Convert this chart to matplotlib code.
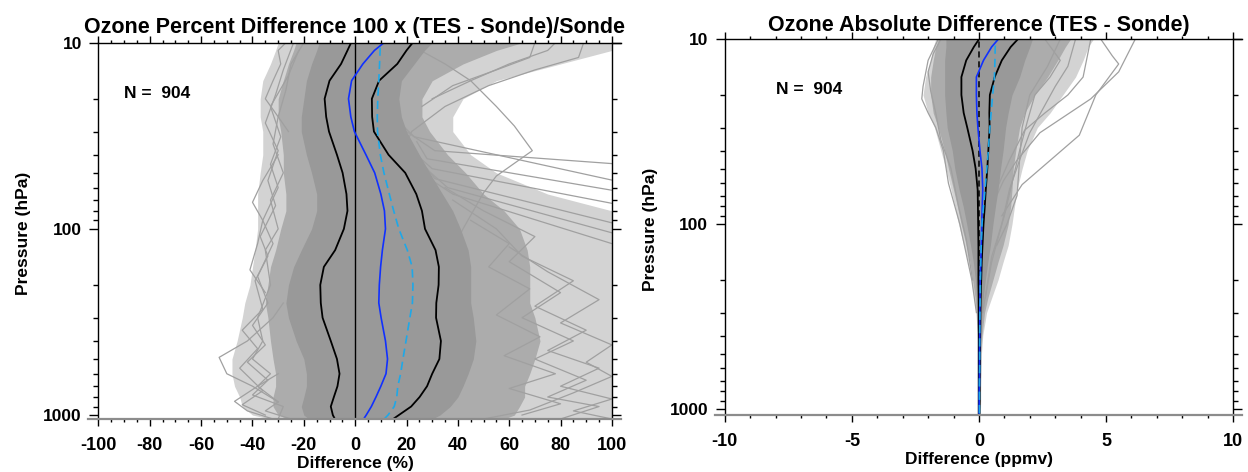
import matplotlib
matplotlib.use("Agg")
import matplotlib.pyplot as plt
from matplotlib.ticker import NullFormatter

plt.rcParams['font.family'] = ['Liberation Sans', 'DejaVu Sans']
plt.rcParams['font.weight'] = 'bold'
plt.rcParams['axes.unicode_minus'] = False

# ---------------- data ----------------
# pressure levels (hPa), surface -> top
P = [1050, 1000, 900, 800, 700, 600, 500, 400, 300, 250, 200, 160, 130,
     100, 80, 65, 50, 40, 30, 25, 20, 16, 13, 11, 10]

# Left panel: percent difference statistics
pct_std_lo = [-7.9, -8.7, -9.5, -8.3, -6.9, -6.1, -7.1, -9.5, -12.7, -13.4, -13.6, -12.2, -7.8,
              -4.4, -3.0, -3.4, -4.9, -7.1, -10.2, -11.3, -11.9, -10.0, -5.5, -3.0, -1.6]
pct_std_hi = [14.8, 17.0, 21.8, 25.1, 28.0, 30.0, 32.8, 33.4, 31.5, 31.6, 32.5, 32.6, 31.3,
              27.2, 26.0, 23.8, 19.5, 13.0, 7.3, 6.6, 6.5, 9.3, 16.4, 20.0, 22.4]
pct_median = [3.3, 4.3, 6.3, 8.1, 10.0, 12.0, 12.6, 11.8, 10.1, 9.2, 9.4, 9.9, 10.6,
              11.8, 11.4, 10.0, 7.6, 4.2, -0.3, -1.7, -2.6, -1.4, 3.0, 7.5, 11.2]
pct_mean = [11.3, 12.8, 15.2, 16.2, 16.6, 17.7, 18.6, 19.8, 21.3, 22.3, 22.5, 22.2, 20.3,
            17.0, 15.0, 13.3, 11.2, 9.8, 8.7, 8.6, 8.8, 9.2, 9.5, 9.7, 9.8]
# envelopes of the 904 gray profiles (dense core / dense lines / sparse lines)
pct_core_lo = [-18, -20, -21, -20, -19, -19, -20, -23, -26, -27, -26, -24, -21,
               -17, -15, -15, -17, -19, -21, -21, -20, -19, -17, -15, -14]
pct_core_hi = [30, 33, 37, 40, 42, 44, 46, 47, 46, 45, 45, 45, 44,
               41, 38, 34, 29, 25, 20, 18, 17, 18, 23, 27, 30]
pct_mid_lo = [-26, -30, -32, -32, -31, -31, -32, -33, -34, -35, -34, -33, -31,
              -29, -27, -27, -28, -28, -29, -30, -30, -28, -26, -24, -23]
pct_mid_hi = [58, 62, 64, 66, 66, 68, 70, 72, 70, 68, 68, 68, 67,
              64, 58, 50, 43, 36, 29, 26, 26, 30, 42, 55, 65]
pct_out_lo = [-33, -40, -44, -45, -47, -48, -48, -46, -44, -43, -41, -40, -39,
              -38, -38, -38, -37, -36, -36, -37, -37, -36, -33, -31, -30]
pct_out_hi = [100, 100, 100, 100, 100, 100, 100, 100, 100, 100, 100, 100, 100,
              100, 100, 75, 55, 45, 38, 38, 42, 55, 80, 100, 100]

# individual outlying profiles, left panel (pressure, percent)
pct_lines = [
    ([150, 100, 80, 64, 52, 38, 28, 22, 16, 13, 10], [36, 42, 46, 50, 55, 69, 62, 55, 45, 35, 20]),
    ([40, 30, 22, 17, 14, 12, 10], [18, 22, 35, 52, 70, 87, 89]),
    ([30, 38, 44.6, 50], [20, 31, 100, 130]),
    ([25, 32, 54.7, 60], [15, 23, 100, 120]),
    ([38, 47.5, 72.9, 80], [22, 30, 100, 120]),
    ([42, 53.7, 92.8, 100], [25, 31, 100, 115]),
    ([48, 60, 105, 115], [28, 36, 100, 115]),
    ([34, 42, 62, 70], [24, 28, 100, 125]),
    ([55, 65, 120, 130], [30, 38, 100, 110]),
    ([250, 300, 400, 490, 600, 700, 850], [-28, -32, -42, -53, -50, -40, -30]),
    ([600, 700, 844, 950, 1050], [-30, -38, -47, -42, -32]),
    ([10, 11, 13, 16, 20, 25, 30], [-27, -30, -29, -32, -35, -30, -26]),
    ([40, 55, 72, 90, 120, 166, 220], [-30, -36, -40, -36, -38, -41, -35]),
    ([1050, 950, 850, 700, 600, 500, 400, 300, 200, 130, 100, 70, 50, 35, 25, 18, 13, 10],
     [-25, -35, -30, -38, -33, -40, -36, -38, -33, -35, -30, -33, -28, -32, -30, -27, -25, -20]),
    ([1050, 900, 780, 650, 520, 420, 330, 250, 180, 120, 90, 60, 45, 32, 22, 15, 11],
     [-30, -28, -40, -34, -42, -35, -40, -34, -38, -32, -36, -30, -33, -29, -33, -26, -22]),
    ([1000, 880, 740, 560, 440, 350, 270, 190, 140, 110, 75, 55, 38, 27, 19, 14, 10],
     [-35, -44, -36, -45, -38, -44, -36, -39, -34, -37, -31, -34, -30, -35, -31, -28, -24]),
    ([1050, 900, 800, 650, 500, 400, 300, 220, 150, 110, 80, 60],
     [80, 95, 75, 90, 70, 85, 65, 80, 60, 70, 50, 35]),
    ([1050, 950, 820, 700, 560, 450, 350, 260, 190, 140, 100, 70],
     [100, 85, 100, 80, 95, 75, 90, 70, 85, 65, 55, 38]),
    ([1000, 870, 720, 600, 480, 380, 290, 210, 160, 120, 90],
     [65, 80, 60, 78, 58, 72, 55, 68, 52, 60, 45]),
    ([1050, 940, 760, 620, 520, 420, 320, 240, 170, 125],
     [50, 68, 85, 100, 90, 100, 80, 95, 75, 60]),
    ([20, 16, 13, 11, 10], [30, 45, 60, 75, 78]),
    ([22, 17, 14, 12, 10], [26, 38, 55, 68, 70]),
]

# Right panel: absolute difference statistics (ppmv)
abs_std_lo = [-0.01, -0.01, -0.01, -0.01, -0.01, -0.01, -0.01, -0.01, -0.01, -0.01, -0.02, -0.02, -0.02,
              -0.03, -0.04, -0.05, -0.13, -0.25, -0.46, -0.6, -0.69, -0.69, -0.5, -0.2, 0.0]
abs_std_hi = [0.02, 0.02, 0.03, 0.03, 0.03, 0.04, 0.04, 0.05, 0.06, 0.07, 0.09, 0.11, 0.14,
              0.18, 0.23, 0.27, 0.33, 0.37, 0.42, 0.41, 0.43, 0.62, 0.9, 1.25, 1.53]
abs_median = [0.01, 0.01, 0.01, 0.01, 0.02, 0.02, 0.02, 0.03, 0.03, 0.04, 0.05, 0.07, 0.09,
              0.11, 0.13, 0.15, 0.12, 0.04, -0.04, -0.08, -0.1, -0.1, 0.18, 0.5, 0.76]
abs_mean = [0.02, 0.02, 0.02, 0.02, 0.02, 0.03, 0.03, 0.03, 0.04, 0.05, 0.06, 0.07, 0.09,
            0.12, 0.18, 0.24, 0.31, 0.37, 0.43, 0.48, 0.54, 0.61, 0.63, 0.64, 0.65]
abs_core_lo = [-0.02, -0.02, -0.02, -0.02, -0.02, -0.02, -0.02, -0.03, -0.06, -0.09, -0.14, -0.22, -0.33,
               -0.48, -0.62, -0.78, -0.95, -1.05, -1.25, -1.3, -1.35, -1.35, -1.35, -1.3, -1.3]
abs_core_hi = [0.04, 0.04, 0.04, 0.04, 0.04, 0.05, 0.06, 0.08, 0.12, 0.17, 0.25, 0.35, 0.45,
               0.55, 0.65, 0.75, 0.85, 0.95, 1.05, 1.15, 1.3, 1.6, 1.8, 2.0, 2.1]
abs_mid_lo = [-0.03, -0.03, -0.03, -0.03, -0.03, -0.03, -0.04, -0.05, -0.1, -0.15, -0.25, -0.35, -0.5,
              -0.7, -0.85, -1.0, -1.2, -1.35, -1.6, -1.8, -1.9, -1.9, -1.8, -1.7, -1.6]
abs_mid_hi = [0.05, 0.05, 0.06, 0.06, 0.06, 0.07, 0.08, 0.12, 0.22, 0.35, 0.55, 0.75, 0.95,
              1.15, 1.25, 1.3, 1.35, 1.45, 1.6, 1.8, 2.2, 2.7, 3.1, 3.4, 3.6]
abs_out_lo = [-0.03, -0.03, -0.03, -0.03, -0.03, -0.03, -0.04, -0.06, -0.12, -0.2, -0.3, -0.42, -0.6,
              -0.8, -0.95, -1.1, -1.3, -1.5, -1.75, -2.0, -2.2, -2.1, -1.9, -1.8, -1.7]
abs_out_hi = [0.06, 0.06, 0.07, 0.07, 0.08, 0.09, 0.1, 0.15, 0.3, 0.5, 0.75, 0.95, 1.15,
              1.3, 1.4, 1.5, 1.7, 1.9, 2.3, 2.8, 3.3, 3.8, 4.1, 4.3, 4.5]
abs_lines = [
    ([75, 58, 45, 32, 21, 15, 10], [0.6, 0.97, 1.5, 2.4, 4.4, 5.5, 6.15]),
    ([60, 45, 31, 25, 20, 16, 10], [0.8, 1.2, 1.8, 2.6, 3.5, 4.1, 4.4]),
    ([130, 100, 70, 45, 30, 20, 14, 10], [0.7, 1.1, 1.5, 1.6, 1.7, 2.0, 2.7, 3.2]),
    ([90, 61, 33, 20, 13.6, 12.3, 10], [0.9, 1.7, 3.95, 4.6, 5.5, 5.25, 4.8]),
    ([300, 200, 100, 60, 40, 30, 25, 21, 18, 13, 10], [-0.1, -0.28, -0.75, -1.2, -1.4, -1.7, -2.0, -2.25, -2.2, -2.0, -1.6]),
    ([300, 150, 90, 60, 40, 28, 20, 16, 13, 10], [0.15, 0.5, 1.0, 1.3, 1.6, 1.9, 2.2, 2.8, 3.2, 2.6]),
    ([200, 120, 80, 50, 35, 25, 19, 15, 12, 10], [-0.25, -0.5, -0.8, -1.1, -1.5, -1.7, -1.9, -2.0, -1.8, -1.5]),
    ([250, 160, 100, 65, 45, 32, 24, 18, 14, 10], [0.25, 0.5, 0.9, 1.2, 1.6, 2.0, 2.5, 3.0, 3.5, 3.8]),
]

# axis ticks
pct_major = [-100, -80, -60, -40, -20, 0, 20, 40, 60, 80, 100]
pct_minor = [v for v in range(-100, 101, 5) if v % 20 != 0]
abs_major = [-10, -5, 0, 5, 10]
abs_minor = [v for v in range(-10, 11) if v % 5 != 0]
p_major = [10, 100, 1000]
p_minor = [20, 30, 40, 50, 60, 70, 80, 90, 200, 300, 400, 500, 600, 700, 800, 900]

N_PROFILES = 904

# ---------------- figure ----------------
fig = plt.figure(figsize=(12.48, 4.72), dpi=100)
ax1 = fig.add_axes([0.0789, 0.1123, 0.4114, 0.7972])
ax2 = fig.add_axes([0.5808, 0.1208, 0.4072, 0.7960])

GRAY = '#999999'
LINEGRAY = '#a0a0a0'
BLUE = '#1030ff'
CYAN = '#1ea8e8'
XTICKFONT = dict(fontsize=13, fontweight='bold')
YTICKFONT = dict(fontsize=12.5, fontweight='bold')


def draw(ax, lo_o, hi_o, lo_m, hi_m, lo_c, hi_c, lines, slo, shi, med, mean, xlim, ylim,
         zero_dashed, xmaj, xmin):
    ax.fill_betweenx(P, lo_o, hi_o, color='#d3d3d3', lw=0, zorder=1)
    ax.fill_betweenx(P, lo_m, hi_m, color='#acacac', lw=0, zorder=1.2)
    for pp, xx in lines:
        ax.plot(xx, pp, color=LINEGRAY, lw=0.9, zorder=1.5)
    ax.fill_betweenx(P, lo_c, hi_c, color=GRAY, lw=0, zorder=2)
    if zero_dashed:
        ax.plot([0, 0], [ylim[0], ylim[1]], color='black', lw=1.1, dashes=(4, 2.5), zorder=3)
    else:
        ax.plot([0, 0], [ylim[0], ylim[1]], color='black', lw=1.0, zorder=3)
    ax.plot(slo, P, color='black', lw=1.3, zorder=4)
    ax.plot(shi, P, color='black', lw=1.3, zorder=4)
    ax.plot(med, P, color=BLUE, lw=1.2, zorder=4)
    ax.plot(mean, P, color=CYAN, lw=1.2, dashes=(5, 3), zorder=4)
    ax.set_yscale('log')
    ax.set_ylim(*ylim)
    ax.set_xlim(*xlim)
    ax.set_yticks(p_major)
    ax.set_yticklabels([str(v) for v in p_major], **YTICKFONT)
    ax.set_yticks(p_minor, minor=True)
    ax.yaxis.set_minor_formatter(NullFormatter())
    ax.set_xticks(xmaj)
    ax.set_xticklabels([str(v) for v in xmaj], **XTICKFONT)
    ax.set_xticks(xmin, minor=True)
    ax.tick_params(axis='both', which='both', direction='out', top=True, right=True,
                   labeltop=False, labelright=False, width=1.0)
    ax.tick_params(axis='x', which='major', length=4.8, pad=8.0)
    ax.tick_params(axis='x', which='minor', length=2.5)
    ax.tick_params(axis='y', which='major', length=6.5, pad=5.5)
    ax.tick_params(axis='y', which='minor', length=3.5)
    ax.spines['bottom'].set_visible(False)
    ax.spines['top'].set_visible(False)
    for s in ('left', 'right'):
        ax.spines[s].set_linewidth(1.0)
    ax.plot([-0.02, 1.018], [0, 0], transform=ax.transAxes, color='#8c8c8c', lw=1.6,
            clip_on=False, zorder=6)
    ax.plot([0, 1.018], [1, 1], transform=ax.transAxes, color='black', lw=1.0,
            clip_on=False, zorder=6)


draw(ax1, pct_out_lo, pct_out_hi, pct_mid_lo, pct_mid_hi, pct_core_lo, pct_core_hi, pct_lines,
     pct_std_lo, pct_std_hi, pct_median, pct_mean, (-100, 100), (1050, 10), False,
     pct_major, pct_minor)
draw(ax2, abs_out_lo, abs_out_hi, abs_mid_lo, abs_mid_hi, abs_core_lo, abs_core_hi, abs_lines,
     abs_std_lo, abs_std_hi, abs_median, abs_mean, (-10, 10), (1073, 10), True,
     abs_major, abs_minor)

ax1.text(0.05, 0.864, f'N =  {N_PROFILES}', transform=ax1.transAxes, fontsize=12.5,
         fontweight='bold', va='center', ha='left')
ax2.text(0.10, 0.865, f'N =  {N_PROFILES}', transform=ax2.transAxes, fontsize=12.5,
         fontweight='bold', va='center', ha='left')

fig.text(355 / 1248, 1 - 33.3 / 472, 'Ozone Percent Difference 100 x (TES - Sonde)/Sonde',
         ha='center', va='baseline', fontsize=15.5, fontweight='bold')
fig.text(979 / 1248, 1 - 30.7 / 472, 'Ozone Absolute Difference (TES - Sonde)',
         ha='center', va='baseline', fontsize=15.5, fontweight='bold')
fig.text(355 / 1248, 1 - 468 / 472, 'Difference (%)', ha='center', va='baseline',
         fontsize=12.5, fontweight='bold')
fig.text(979 / 1248, 1 - 464 / 472, 'Difference (ppmv)', ha='center', va='baseline',
         fontsize=12.5, fontweight='bold')
fig.text(24 / 1248, 1 - 233 / 472, 'Pressure (hPa)', ha='center', va='center', rotation=90,
         fontsize=12.5, fontweight='bold')
fig.text(651 / 1248, 1 - 229 / 472, 'Pressure (hPa)', ha='center', va='center', rotation=90,
         fontsize=12.5, fontweight='bold')

fig.savefig('out.png', dpi=100)
